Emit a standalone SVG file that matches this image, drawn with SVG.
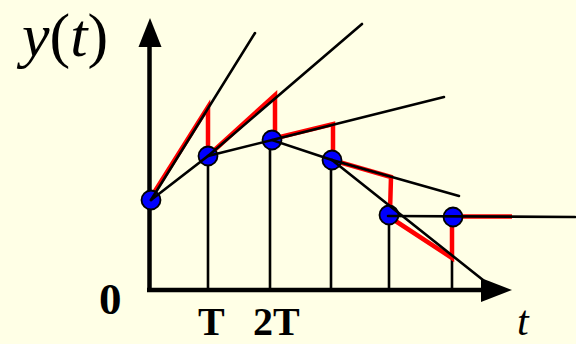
<svg xmlns="http://www.w3.org/2000/svg" width="576" height="344" viewBox="0 0 576 344">
<style>
.ax{stroke:#000;stroke-width:4.5;fill:none}
.ln{stroke:#000;stroke-width:2.6;fill:none;stroke-linecap:round}
.rd{stroke:#FF0000;stroke-width:4.5;fill:none;stroke-linejoin:miter}
.pt{fill:#0000FF;stroke:#000;stroke-width:1.8}
.bold{font-family:"Liberation Serif",serif;font-weight:bold;fill:#000}
.ital{font-family:"Liberation Serif",serif;font-style:italic;fill:#000}
</style>
<rect width="576" height="344" fill="#FFFFE6"/>
<g id="axes">
<line class="ax" x1="149.5" y1="292" x2="149.5" y2="44"/>
<polygon points="150,18 138.5,47 161.5,47" fill="#000"/>
<line class="ax" x1="147" y1="290" x2="486" y2="290"/>
<polygon points="512,290 481,278 481,302" fill="#000"/>
</g>
<g id="labels">
<text x="22" y="55.5" font-size="62" class="ital">y<tspan font-style="normal">(</tspan>t<tspan font-style="normal">)</tspan></text>
<text x="99" y="314" font-size="45" class="bold">0</text>
<text x="198" y="335" font-size="40" class="bold">T</text>
<text x="253" y="335" font-size="40" class="bold">2T</text>
<text x="517" y="334.5" font-size="42" class="ital">t</text>
</g>
<g id="samples">
<line class="ln" x1="208" y1="156" x2="208" y2="290"/>
<line class="ln" x1="270" y1="140" x2="270" y2="290"/>
<line class="ln" x1="331" y1="160" x2="331" y2="290"/>
<line class="ln" x1="389" y1="215" x2="389" y2="290"/>
<line class="ln" x1="452" y1="217" x2="452" y2="290"/>
</g>
<g id="red-steps">
<polyline class="rd" points="150,199 208,107 208,156"/>
<polyline class="rd" points="209,155 275,95 275,140"/>
<polyline class="rd" points="272,139 333,124 333,160"/>
<polyline class="rd" points="332,160 391,177 390,212"/>
<polyline class="rd" points="394,220 452,258 452,217"/>
<polyline class="rd" points="453,216.5 512,216.5"/>
</g>
<g id="n0"><circle class="pt" cx="151" cy="200" r="9.5"/></g>
<g id="n1"><circle class="pt" cx="208" cy="156" r="9.5"/></g>
<g id="n2"><circle class="pt" cx="272" cy="140" r="9.5"/></g>
<g id="n3"><circle class="pt" cx="332" cy="160" r="9.5"/></g>
<g id="n4"><circle class="pt" cx="389" cy="215" r="9.5"/></g>
<g id="n5"><circle class="pt" cx="453" cy="217" r="9.5"/></g>
<g id="connectors">
<polyline class="ln" points="151,200 208,156 272,140 332,160"/>
<line class="ln" x1="332" y1="160" x2="483" y2="280"/>
<line class="ln" x1="151" y1="200" x2="255" y2="33"/>
<line class="ln" x1="208" y1="156" x2="362" y2="24"/>
<line class="ln" x1="272" y1="140" x2="444" y2="97"/>
<line class="ln" x1="332" y1="160" x2="459" y2="196"/>
<line class="ln" x1="388" y1="216" x2="575" y2="217"/>
</g>
</svg>
